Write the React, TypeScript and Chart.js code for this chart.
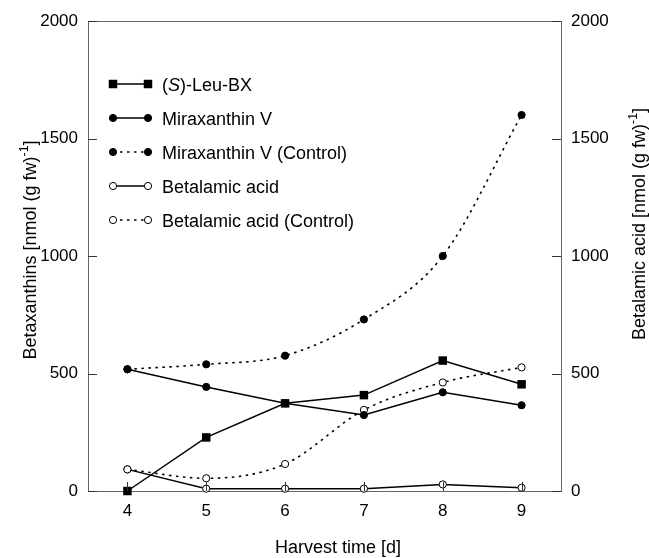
import { useEffect, useRef } from "react";
import { Chart, registerables } from "chart.js";

Chart.register(...registerables);

// ---- data ----
const DAYS = [4, 5, 6, 7, 8, 9];
const X_TICKS = [4, 5, 6, 7, 8, 9];
const Y_TICKS = [0, 500, 1000, 1500, 2000];
const LEU_BX = [0, 228, 373, 408, 555, 454];
const MIRAX_V = [518, 443, 373, 323, 420, 365];
const MIRAX_V_CTRL = [518, 539, 576, 730, 1000, 1600];
const BETALAMIC = [92, 10, 10, 10, 28, 14];
const BETALAMIC_CTRL = [92, 54, 115, 345, 462, 526];

const LABELS = [
  "(S)-Leu-BX",
  "Miraxanthin V",
  "Miraxanthin V (Control)",
  "Betalamic acid",
  "Betalamic acid (Control)",
];
const X_TITLE = "Harvest time [d]";
const Y_TITLE = "Betaxanthins [nmol (g fw)";
const Y2_TITLE = "Betalamic acid [nmol (g fw)";
const UNIT_SUP = "-1";
const UNIT_END = "]";

const FONT = '"Liberation Sans", Arial, Helvetica, sans-serif';

type Seg = { t: string; italic?: boolean; sup?: boolean };

function richLabel(label: string): Seg[] {
  const m = label.match(/^\((S)\)(.*)$/);
  if (m) return [{ t: "(" }, { t: m[1], italic: true }, { t: ")" + m[2] }];
  return [{ t: label }];
}

function drawSegs(
  ctx: CanvasRenderingContext2D,
  segs: Seg[],
  x: number,
  y: number,
  size: number,
  align: "left" | "center"
) {
  const parts = segs.map((s) => {
    const fs = s.sup ? size * 0.68 : size;
    const font = `${s.italic ? "italic " : ""}${fs}px ${FONT}`;
    ctx.font = font;
    return { ...s, font, w: ctx.measureText(s.t).width };
  });
  const total = parts.reduce((a, p) => a + p.w, 0);
  let cx = align === "center" ? x - total / 2 : x;
  ctx.textAlign = "left";
  ctx.textBaseline = "alphabetic";
  for (const p of parts) {
    ctx.font = p.font;
    ctx.fillText(p.t, cx, p.sup ? y - size * 0.42 : y);
    cx += p.w;
  }
}

const decorPlugin = {
  id: "decor",
  afterDraw(chart: any) {
    const { ctx, chartArea } = chart;
    const { left, right, top, bottom } = chartArea;
    const xs = chart.scales.x;
    const ys = chart.scales.y;
    const y2s = chart.scales.y2;
    ctx.save();

    // top border
    ctx.strokeStyle = "#666";
    ctx.lineWidth = 1;
    ctx.beginPath();
    ctx.moveTo(left, Math.round(top) + 0.5);
    ctx.lineTo(right, Math.round(top) + 0.5);
    ctx.stroke();

    // inward tick marks
    ctx.strokeStyle = "#333";
    ctx.beginPath();
    for (const t of xs.ticks) {
      const px = Math.round(xs.getPixelForValue(t.value)) + 0.5;
      ctx.moveTo(px, bottom);
      ctx.lineTo(px, bottom - 9);
    }
    for (const t of ys.ticks) {
      const py = Math.round(ys.getPixelForValue(t.value)) + 0.5;
      ctx.moveTo(left, py);
      ctx.lineTo(left + 9, py);
    }
    for (const t of y2s.ticks) {
      const py = Math.round(y2s.getPixelForValue(t.value)) + 0.5;
      ctx.moveTo(right, py);
      ctx.lineTo(right - 9, py);
    }
    ctx.stroke();

    // legend
    const x1 = left + 25;
    const x2 = left + 60;
    const tx = left + 74;
    chart.data.datasets.forEach((ds: any, i: number) => {
      const ry = top + 63 + i * 34;
      ctx.save();
      ctx.strokeStyle = ds.borderColor;
      ctx.lineWidth = ds.borderWidth;
      ctx.setLineDash(ds.borderDash || []);
      ctx.beginPath();
      ctx.moveTo(x1, ry);
      ctx.lineTo(x2, ry);
      ctx.stroke();
      ctx.setLineDash([]);
      for (const mx of [x1, x2]) {
        const r = ds.pointRadius;
        ctx.fillStyle = ds.pointBackgroundColor;
        ctx.strokeStyle = ds.pointBorderColor;
        ctx.lineWidth = ds.pointBorderWidth;
        if (ds.pointStyle === "rect") {
          const s = r * Math.SQRT1_2;
          ctx.fillRect(mx - s, ry - s, 2 * s, 2 * s);
        } else {
          ctx.beginPath();
          ctx.arc(mx, ry, r, 0, Math.PI * 2);
          ctx.fill();
          ctx.stroke();
        }
      }
      ctx.restore();
      ctx.fillStyle = "#000";
      drawSegs(ctx, richLabel(ds.label), tx, ry + 7, 18, "left");
    });

    // axis titles
    ctx.fillStyle = "#000";
    drawSegs(ctx, [{ t: X_TITLE }], 338, 553, 18, "center");

    ctx.save();
    ctx.translate(36, 250);
    ctx.rotate(-Math.PI / 2);
    drawSegs(ctx, [{ t: Y_TITLE }, { t: UNIT_SUP, sup: true }, { t: UNIT_END }], 0, 0, 18, "center");
    ctx.restore();

    ctx.save();
    ctx.translate(645, 224);
    ctx.rotate(-Math.PI / 2);
    drawSegs(ctx, [{ t: Y2_TITLE }, { t: UNIT_SUP, sup: true }, { t: UNIT_END }], 0, 0, 18, "center");
    ctx.restore();

    ctx.restore();
  },
};

function pts(vals: number[]) {
  return DAYS.map((d, i) => ({ x: d, y: vals[i] }));
}

export default function App() {
  const ref = useRef<HTMLCanvasElement>(null);

  useEffect(() => {
    const canvas = ref.current;
    if (!canvas) return;
    const tickFont = { family: FONT, size: 17 };
    const border = { display: true, color: "#666", width: 1 };
    const plain = (v: any) => String(v);
    const chart = new Chart(canvas, {
      type: "line",
      data: {
        datasets: [
          {
            label: LABELS[0],
            data: pts(LEU_BX),
            yAxisID: "y",
            borderColor: "#000",
            borderWidth: 1.5,
            pointStyle: "rect",
            pointRadius: 6,
            pointBackgroundColor: "#000",
            pointBorderColor: "#000",
            pointBorderWidth: 0,
            tension: 0,
            clip: false,
          },
          {
            label: LABELS[1],
            data: pts(MIRAX_V),
            yAxisID: "y",
            borderColor: "#000",
            borderWidth: 1.5,
            pointStyle: "circle",
            pointRadius: 3.6,
            pointBackgroundColor: "#000",
            pointBorderColor: "#000",
            pointBorderWidth: 1,
            tension: 0,
            clip: false,
          },
          {
            label: LABELS[2],
            data: pts(MIRAX_V_CTRL),
            yAxisID: "y",
            borderColor: "#000",
            borderWidth: 1.6,
            borderDash: [2.5, 4.5],
            pointStyle: "circle",
            pointRadius: 3.6,
            pointBackgroundColor: "#000",
            pointBorderColor: "#000",
            pointBorderWidth: 1,
            cubicInterpolationMode: "monotone",
            clip: false,
          },
          {
            label: LABELS[3],
            data: pts(BETALAMIC),
            yAxisID: "y2",
            borderColor: "#000",
            borderWidth: 1.5,
            pointStyle: "circle",
            pointRadius: 3.6,
            pointBackgroundColor: "#fff",
            pointBorderColor: "#000",
            pointBorderWidth: 1,
            tension: 0,
            clip: false,
          },
          {
            label: LABELS[4],
            data: pts(BETALAMIC_CTRL),
            yAxisID: "y2",
            borderColor: "#000",
            borderWidth: 1.6,
            borderDash: [2.5, 4.5],
            pointStyle: "circle",
            pointRadius: 3.6,
            pointBackgroundColor: "#fff",
            pointBorderColor: "#000",
            pointBorderWidth: 1,
            cubicInterpolationMode: "monotone",
            clip: false,
          },
        ],
      },
      options: {
        animation: false,
        responsive: false,
        events: [],
        layout: { padding: { top: 21, left: 0, right: 0, bottom: 0 } },
        plugins: { legend: { display: false }, tooltip: { enabled: false } },
        scales: {
          x: {
            type: "linear",
            position: "bottom",
            min: 3.5,
            max: 9.5,
            afterBuildTicks: (s: any) => {
              s.ticks = X_TICKS.map((v) => ({ value: v }));
            },
            afterFit: (s: any) => {
              s.height = 67;
            },
            grid: { display: false, drawTicks: false },
            border,
            ticks: { padding: 10, color: "#000", font: tickFont, maxRotation: 0, autoSkip: false, callback: plain },
          },
          y: {
            type: "linear",
            position: "left",
            min: 0,
            max: 2000,
            afterBuildTicks: (s: any) => {
              s.ticks = Y_TICKS.map((v) => ({ value: v }));
            },
            afterFit: (s: any) => {
              s.width = 88;
            },
            grid: { display: false, drawTicks: false },
            border,
            ticks: { padding: 10, color: "#000", font: tickFont, autoSkip: false, callback: plain },
          },
          y2: {
            type: "linear",
            position: "right",
            min: 0,
            max: 2000,
            afterBuildTicks: (s: any) => {
              s.ticks = Y_TICKS.map((v) => ({ value: v }));
            },
            afterFit: (s: any) => {
              s.width = 88;
            },
            grid: { display: false, drawTicks: false },
            border,
            ticks: { padding: 10, color: "#000", font: tickFont, autoSkip: false, callback: plain },
          },
        },
      },
      plugins: [decorPlugin],
    } as any);
    return () => chart.destroy();
  }, []);

  return (
    <div style={{ position: "absolute", left: 0, top: 0, width: 649, height: 558, background: "#fff" }}>
      <canvas ref={ref} width={649} height={558} style={{ display: "block" }} />
    </div>
  );
}
